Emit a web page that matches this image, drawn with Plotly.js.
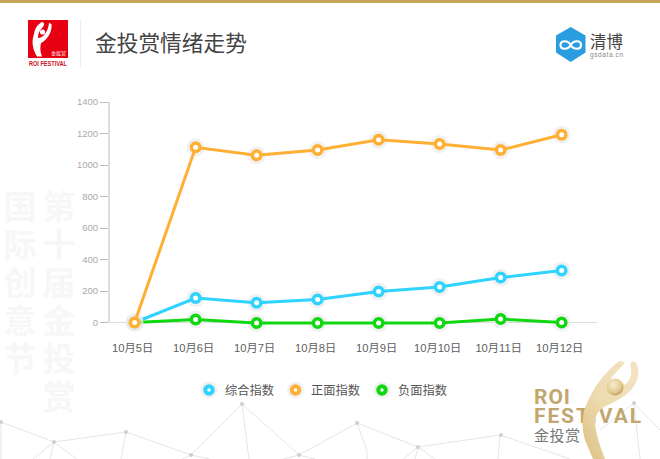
<!DOCTYPE html>
<html><head><meta charset="utf-8">
<script src="https://cdn.plot.ly/plotly-3.0.1.min.js"></script>
<style>
html,body{margin:0;padding:0;background:#fff;width:660px;height:459px;overflow:hidden}
#deco,#chart{position:absolute;left:0;top:0;width:660px;height:459px}
</style></head><body>
<svg id="deco" width="660" height="459" viewBox="0 0 660 459" xmlns="http://www.w3.org/2000/svg">
<defs><linearGradient id="gold" x1="1" y1="0" x2="0" y2="1"><stop offset="0" stop-color="#f3e4c4"/><stop offset="0.55" stop-color="#eddaae"/><stop offset="1" stop-color="#dcc083"/></linearGradient>
<radialGradient id="ball" cx="0.4" cy="0.35" r="0.7"><stop offset="0" stop-color="#f7ecd2"/><stop offset="0.7" stop-color="#e3c88e"/><stop offset="1" stop-color="#b39454"/></radialGradient></defs>
<rect x="0" y="0" width="660" height="3" fill="#c8a35a"/>
<g font-family="'Noto Sans CJK SC'" font-size="33" font-weight="700" fill="#f7f7f7" text-anchor="start" style="writing-mode:vertical-rl;letter-spacing:5px">
<text x="20" y="190">国际创意节</text>
<text x="59" y="190">第十届金投赏</text>
</g>
<g stroke="#e6e6e6" stroke-width="1" fill="none">
<path d="M1 422L54 442L126 432L191 455L242 404L299 455L357 423L418 447L500 435L570 459M1 422V459M54 442L33 459M54 442L50 459M54 442L77 459M126 432L121 459M191 455L182 459M191 455L210 459M242 404L249 459M299 455L283 459M299 455L315 459M357 423L367 451V459M418 447L403 459M418 447L415 459M418 447L435 459M500 435L498 459M634 403L660 430M634 403L640 459M634 403L600 430"/>
</g>
<g fill="#cfcfcf">
<circle cx="1" cy="422" r="2"/><circle cx="54" cy="442" r="2"/><circle cx="126" cy="432" r="2"/><circle cx="191" cy="455" r="2"/><circle cx="242" cy="404" r="2"/><circle cx="299" cy="455" r="2"/><circle cx="357" cy="423" r="2"/><circle cx="418" cy="447" r="2"/><circle cx="501" cy="435" r="2"/><circle cx="634" cy="403" r="2"/>
</g>
<rect x="28" y="20" width="40" height="38" fill="#e60012"/>
<path d="M49 23L51.500 24C52.500 32 47 40 41 43C40 47 40 52 42 56.500H37C33 50 31 42 34 34C35 28 38 24 42 22C45 22 44.500 26 42 28C39 31 38 34 38 38C43 38 48 32 49 23Z" fill="#fff"/>
<circle cx="42.500" cy="32" r="2.600" fill="#fff"/>
<text x="58.500" y="55" font-family="'Noto Sans CJK SC'" font-size="5" fill="#fff" text-anchor="middle">金投赏</text>
<text x="48" y="66" font-family="'Liberation Sans Narrow','Liberation Sans'" font-size="7.500" font-weight="700" fill="#c8101c" text-anchor="middle" textLength="38" lengthAdjust="spacingAndGlyphs">ROI FESTIVAL</text>
<line x1="80.500" y1="20" x2="80.500" y2="67" stroke="#ececec"/>
<text x="95" y="51" font-family="'Noto Sans CJK SC'" font-size="21.700" fill="#444">金投赏情绪走势</text>
<path d="M570.700 27L585.500 35.500V52.500L570.700 62L556 52.500V35.500Z" fill="#2a9de0"/>
<path d="M570.700 45C568 40 560.500 40 560.500 45C560.500 50 568 50 570.700 45C573.500 40 581 40 581 45C581 50 573.500 50 570.700 45" fill="none" stroke="#fff" stroke-width="2.200"/>
<text x="590" y="48" font-family="'Noto Sans CJK SC'" font-size="16.500" fill="#444">清博</text>
<text x="590" y="56.500" font-family="'Liberation Sans'" font-size="6.500" fill="#888" textLength="33">gsdata.cn</text>
<g font-family="'Roboto','Liberation Sans'" font-weight="700" font-size="21" fill="#c2a66f">
<text x="534" y="404" textLength="36">ROI</text>
<text x="534" y="423" textLength="107">FESTIVAL</text>
</g>
<text x="534" y="441" font-family="'Noto Sans CJK SC'" font-size="15" fill="#777" textLength="46">金投赏</text>
<path d="M618 362C610 368 596 383 590 397C583 410 580 422 585 440C588 448 591 453 593 459H605C601 448 596 436 595 423C595 414 600 409 606 406C618 400 632 394 637 380C640 372 638 362 633 361L630 364C633 372 631 380 625 385C620 378 612 380 606 388C610 378 616 372 624 364C624 361 621 360 618 362Z" fill="url(#gold)"/>
<circle cx="615" cy="387" r="8.500" fill="url(#ball)"/>
</svg>
<div id="chart"></div>
<script>
var categories = ["10月5日","10月6日","10月7日","10月8日","10月9日","10月10日","10月11日","10月12日"];
var overall = [0,155,125,146,197,225,285,330];
var positive = [0,1112,1062,1095,1160,1133,1095,1192];
var negative = [0,19,-3,-3,-3,-3,22,0];
var yTicks = [0,200,400,600,800,1000,1200,1400];
var seriesNames = ["综合指数","正面指数","负面指数"];
var seriesColors = ["#2ed3ff","#ffaf33","#10d810"];
var legendX = [209,295.500,382];
var legendY = 390;

var W = 660, H = 459;
var traces = [];
function addSeries(values, color){
  traces.push({type:"scatter",mode:"markers",x:categories,y:values,cliponaxis:false,hoverinfo:"skip",
    marker:{size:18,color:"rgba(235,235,235,0.7)"},showlegend:false});
  traces.push({type:"scatter",mode:"lines",x:categories,y:values,cliponaxis:false,
    line:{color:color,width:3},showlegend:false});
  traces.push({type:"scatter",mode:"markers",x:categories,y:values,cliponaxis:false,
    marker:{size:8.5,color:"#fff",line:{color:color,width:3.5}},showlegend:false});
}
addSeries(overall, seriesColors[0]);
addSeries(negative, seriesColors[2]);
addSeries(positive, seriesColors[1]);

var annotations = [];
seriesNames.forEach(function(name,i){
  traces.push({type:"scatter",mode:"markers",x:[legendX[i]],y:[legendY],xaxis:"x2",yaxis:"y2",hoverinfo:"skip",
    marker:{size:17,color:"rgba(235,235,235,0.7)"},showlegend:false});
  traces.push({type:"scatter",mode:"markers",x:[legendX[i]],y:[legendY],xaxis:"x2",yaxis:"y2",name:name,
    marker:{size:7.5,color:"#fff",line:{color:seriesColors[i],width:4}},showlegend:false});
  annotations.push({xref:"x2",yref:"y2",x:legendX[i]+13.5,y:legendY-0.5,xanchor:"left",yanchor:"middle",showarrow:false,
    text:name,font:{family:"'Noto Sans CJK SC'",size:12.25,color:"#555"}});
});

var layout = {
  width:W,height:H,margin:{l:0,r:0,t:0,b:0,pad:0},
  paper_bgcolor:"rgba(0,0,0,0)",plot_bgcolor:"rgba(0,0,0,0)",showlegend:false,
  font:{family:"'Liberation Sans','Noto Sans CJK SC'"},
  xaxis:{type:"category",domain:[109/W,597/W],range:[-0.42,7.58],showgrid:false,zeroline:false,
    showline:false,ticks:"outside",ticklen:12,tickcolor:"rgba(0,0,0,0)",ticklabelshift:-2,
    tickfont:{family:"'Liberation Sans','Noto Sans CJK SC'",size:11.2,color:"#606060"},tickangle:0},
  yaxis:{domain:[1-325.65/H,1-102/H],range:[-20,1400],tickmode:"array",tickvals:yTicks,showgrid:false,
    zeroline:true,zerolinecolor:"#dcdcdc",zerolinewidth:1,
    showline:false,ticks:"outside",ticklen:8,tickcolor:"#bdbdbd",
    tickfont:{family:"'Liberation Sans'",size:9.5,color:"#aaa"}},
  xaxis2:{domain:[0,1],range:[0,W],visible:false,anchor:"y2",fixedrange:true},
  yaxis2:{domain:[0,1],range:[H,0],visible:false,anchor:"x2",fixedrange:true},
  shapes:[{type:"line",xref:"x domain",yref:"y",x0:0,x1:0,y0:0,y1:1400,line:{color:"#bdbdbd",width:1}}],
  annotations:annotations
};
Plotly.newPlot("chart",traces,layout,{displayModeBar:false,staticPlot:true});
</script>
</body></html>
